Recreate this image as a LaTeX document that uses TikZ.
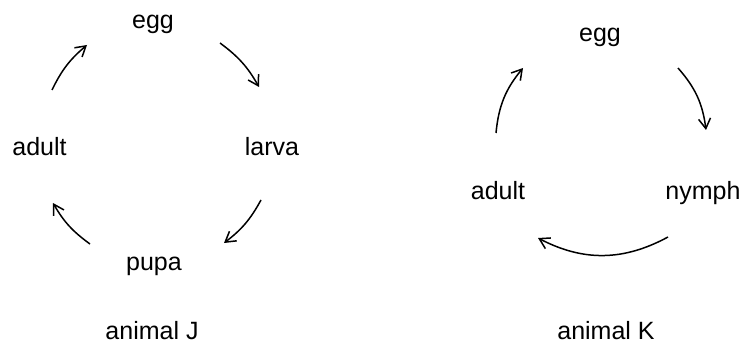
\documentclass[tikz,border=0pt]{standalone}
\usepackage{fontspec}
\setmainfont{Liberation Sans}
\usetikzlibrary{arrows.meta}
\begin{document}
\begin{tikzpicture}[x=1pt,y=-1pt,
  lbl/.style={anchor=base,inner sep=0pt,font=\fontsize{25}{30}\selectfont},
  cyc/.style={line width=1.5pt,-{Straight Barb[length=10pt,width=12pt,line width=1.5pt]}}]
\useasboundingbox (0,0) rectangle (748,345);
% animal J
\node[lbl] (eggJ) at (153,29) {egg};
\node[lbl] (adultJ) at (39.5,155) {adult};
\node[lbl] (larvaJ) at (272,155) {larva};
\node[lbl] (pupaJ) at (154,270) {pupa};
\node[lbl] (animJ) at (152,339) {animal J};
\coordinate (j1a) at (52,90);  \coordinate (j1b) at (87,45);
\coordinate (j2a) at (220,43); \coordinate (j2b) at (259,87);
\coordinate (j3a) at (261,200); \coordinate (j3b) at (224,243);
\coordinate (j4a) at (90,244); \coordinate (j4b) at (53,203);
\draw[cyc] (j1a) to[bend left=12] (j1b);
\draw[cyc] (j2a) to[bend left=12] (j2b);
\draw[cyc] (j3a) to[bend left=12] (j3b);
\draw[cyc] (j4a) to[bend left=12] (j4b);
% animal K
\node[lbl] (eggK) at (600,42) {egg};
\node[lbl] (adultK) at (498,200) {adult};
\node[lbl] (nymphK) at (703,200) {nymph};
\node[lbl] (animK) at (606,339) {animal K};
\coordinate (k1a) at (496,133); \coordinate (k1b) at (523,68);
\coordinate (k2a) at (678,68);  \coordinate (k2b) at (706,130);
\coordinate (k3a) at (668,237); \coordinate (k3b) at (538,238);
\draw[cyc] (k1a) to[bend left=17] (k1b);
\draw[cyc] (k2a) to[bend left=17] (k2b);
\draw[cyc] (k3a) to[bend left=28] (k3b);
\end{tikzpicture}
\end{document}
